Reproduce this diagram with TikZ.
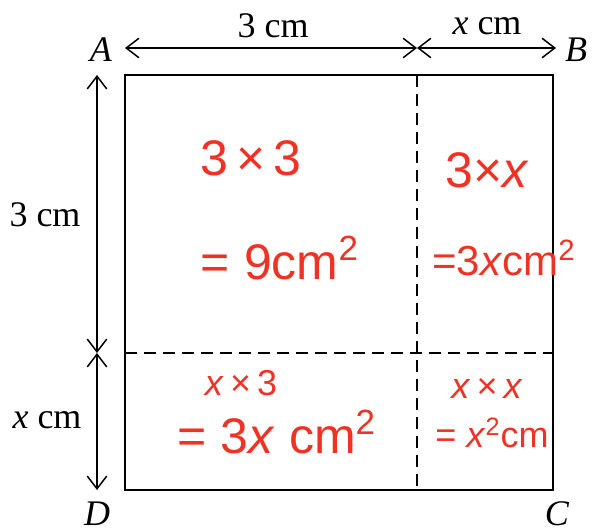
\documentclass[tikz,border=0pt]{standalone}
\usepackage{fontspec}
\setmainfont{Liberation Serif}
\newfontfamily\handfont{Liberation Sans}
\usetikzlibrary{arrows.meta}
\definecolor{penred}{RGB}{238,50,36}
\begin{document}
\begin{tikzpicture}[x=0.5pt,y=-0.5pt,>={Straight Barb[angle=75:8pt]},
  lbl/.style={font=\fontsize{18}{21}\selectfont},
  work/.style={text=penred,font=\handfont\fontsize{25}{28}\selectfont},
  narrowwork/.style={text=penred,font=\handfont\fontsize{21}{24}\selectfont},
  smallwork/.style={text=penred,font=\handfont\fontsize{18}{20}\selectfont}]
  \useasboundingbox (0,0) rectangle (592,531);
  % corners and cut points
  \coordinate (A) at (125,75);
  \coordinate (B) at (553,75);
  \coordinate (C) at (553,490);
  \coordinate (D) at (125,490);
  \coordinate (topcut) at (417,75);
  \coordinate (botcut) at (417,490);
  \coordinate (leftcut) at (125,353);
  \coordinate (rightcut) at (553,353);
  % dimension ends
  \coordinate (t1) at (125,48);
  \coordinate (t2) at (417,48);
  \coordinate (t3) at (556,48);
  \coordinate (s1) at (97,75);
  \coordinate (s2) at (97,353);
  \coordinate (s3) at (97,490);
  \draw[line width=1pt] (A) rectangle (C);
  \draw[dashed,line width=0.8pt,dash pattern=on 6pt off 3.5pt] (topcut) -- (botcut);
  \draw[dashed,line width=0.8pt,dash pattern=on 6pt off 3.5pt] (leftcut) -- (rightcut);
  \draw[<->,line width=0.75pt] (t1) -- (t2);
  \draw[<->,line width=0.75pt] (t2) -- (t3);
  \draw[<->,line width=0.75pt] (s1) -- (s2);
  \draw[<->,line width=0.75pt] (s2) -- (s3);
  \node[lbl] (labA) at (101,50) {\textit{A}};
  \node[lbl] (labB) at (576,50) {\textit{B}};
  \node[lbl] (labC) at (557,514) {\textit{C}};
  \node[lbl] (labD) at (97,514) {\textit{D}};
  \node[lbl] (top3) at (273,26) {3 cm};
  \node[lbl] (topx) at (487,26) {\textit{x} cm};
  \node[lbl] (left3) at (45,215) {3 cm};
  \node[lbl] (leftx) at (47,420) {\textit{x} cm};
  % the worked areas
  \node[work] (bigprod) at (251,158) {3\,×\,3};
  \node[work] (bigarea) at (280,258) {= 9cm\textsuperscript{2}};
  \node[work] (topprod) at (487,170) {3×\textit{x}};
  \node[narrowwork] (toparea) at (504,258) {=3\textit{x}cm\textsuperscript{2}};
  \node[smallwork] (leftprod) at (241,383) {\textit{x}\,×\,3};
  \node[work] (leftarea) at (277,432) {= 3\textit{x} cm\textsuperscript{2}};
  \node[smallwork] (smallprod) at (487,388) {\textit{x}\,×\,\textit{x}};
  \node[smallwork] (smallarea) at (492,433) {= \textit{x}\textsuperscript{2}cm};
\end{tikzpicture}
\end{document}
